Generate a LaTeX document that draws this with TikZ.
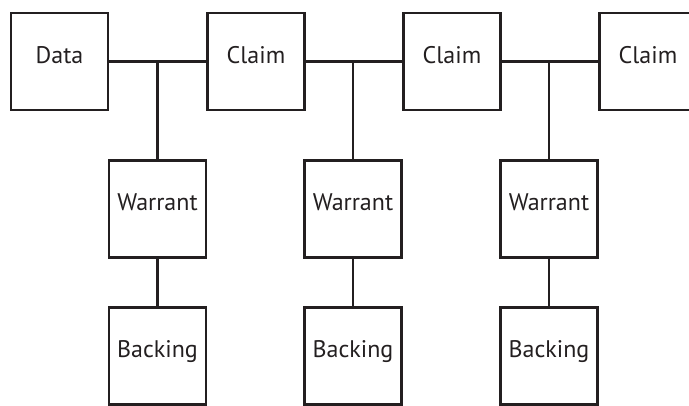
\documentclass[tikz,border=0pt]{standalone}
\usepackage{fontspec}
\setmainfont{PT Sans}
\definecolor{ink}{HTML}{231F20}
\begin{document}
\begin{tikzpicture}[x=1pt,y=-1pt,
  box/.style={draw=ink,line width=2.2pt,minimum width=97pt,minimum height=97pt,inner sep=0pt,
    text height=17pt,text depth=13pt,font=\fontsize{24}{28}\selectfont,text=ink},
  link/.style={draw=ink,line width=2.2pt}]
\useasboundingbox (0,0) rectangle (689,406);
\clip (0,0) rectangle (689,406);
\node[box] (data) at (59.5,61.5) {Data};
\node[box] (c1) at (256,61.5) {Claim};
\node[box] (c2) at (452,61.5) {Claim};
\node[box] (c3) at (648,61.5) {Claim};
\node[box] (w1) at (157.5,209) {Warrant};
\node[box] (w2) at (353,209) {Warrant};
\node[box] (w3) at (549,209) {Warrant};
\node[box] (b1) at (157.5,356) {Backing};
\node[box] (b2) at (353,356) {Backing};
\node[box] (b3) at (549,356) {Backing};
\coordinate (j1) at (w1.north |- data.east);
\coordinate (j2) at (w2.north |- c1.east);
\coordinate (j3) at (w3.north |- c2.east);
\draw[link] (data.east) -- (c1.west);
\draw[link] (c1.east) -- (c2.west);
\draw[link] (c2.east) -- (c3.west);
\draw[link] (j1) -- (w1.north);
\draw[link] (j2) -- (w2.north);
\draw[link] (j3) -- (w3.north);
\draw[link] (w1.south) -- (b1.north);
\draw[link] (w2.south) -- (b2.north);
\draw[link] (w3.south) -- (b3.north);
\end{tikzpicture}
\end{document}
